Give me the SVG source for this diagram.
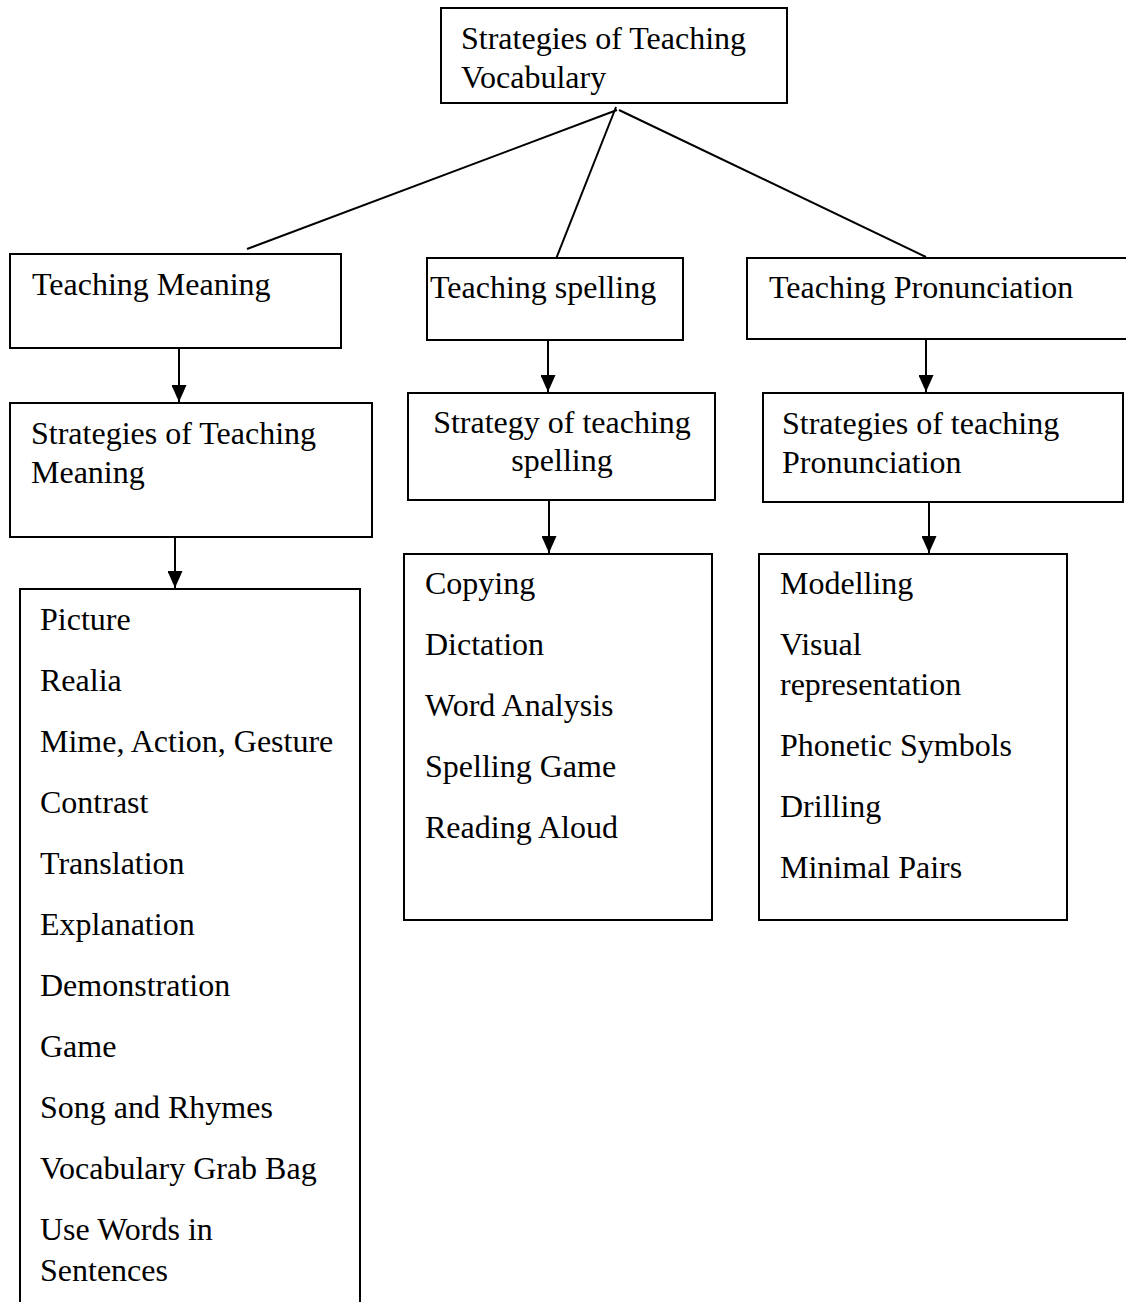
<svg xmlns="http://www.w3.org/2000/svg" width="1126" height="1302" viewBox="0 0 1126 1302">
<style>
.box{fill:#fff;stroke:#000;stroke-width:2}
.t{font-family:"Liberation Serif","Times New Roman",serif;font-size:32px;fill:#000}
.c{text-anchor:middle}
.ln{stroke:#000;stroke-width:2;fill:none}
</style>
<defs>
<marker id="ad" markerUnits="userSpaceOnUse" markerWidth="15" markerHeight="17" refX="7.5" refY="17" viewBox="0 0 15 17">
<path d="M0,0 L15,0 L7.5,17 Z" fill="#000"/>
</marker>
</defs>
<rect width="1126" height="1302" fill="#fff"/>
<g id="connectors">
<line class="ln" x1="617" y1="110" x2="247" y2="249"/>
<line class="ln" x1="616" y1="107" x2="554" y2="264"/>
<line class="ln" x1="619" y1="110" x2="926" y2="257"/>
<line class="ln" x1="179" y1="348" x2="179" y2="402" marker-end="url(#ad)"/>
<line class="ln" x1="175" y1="537" x2="175" y2="588" marker-end="url(#ad)"/>
<line class="ln" x1="548" y1="340" x2="548" y2="392" marker-end="url(#ad)"/>
<line class="ln" x1="549" y1="500" x2="549" y2="553" marker-end="url(#ad)"/>
<line class="ln" x1="926" y1="339" x2="926" y2="392" marker-end="url(#ad)"/>
<line class="ln" x1="929" y1="502" x2="929" y2="553" marker-end="url(#ad)"/>
</g>
<g id="root">
<rect class="box" x="441" y="8" width="346" height="95"/>
<text class="t" x="461" y="49">Strategies of Teaching</text>
<text class="t" x="461" y="88">Vocabulary</text>
</g>
<g id="teaching-meaning">
<rect class="box" x="10" y="254" width="331" height="94"/>
<text class="t" x="32" y="295">Teaching Meaning</text>
</g>
<g id="teaching-spelling">
<rect class="box" x="427" y="258" width="256" height="82"/>
<text class="t" x="430" y="298">Teaching spelling</text>
</g>
<g id="teaching-pronunciation">
<rect class="box" x="747" y="258" width="390" height="81"/>
<text class="t" x="769" y="298">Teaching Pronunciation</text>
</g>
<g id="strategies-meaning">
<rect class="box" x="10" y="403" width="362" height="134"/>
<text class="t" x="31" y="444">Strategies of Teaching</text>
<text class="t" x="31" y="483">Meaning</text>
</g>
<g id="strategy-spelling">
<rect class="box" x="408" y="393" width="307" height="107"/>
<text class="t c" x="562" y="433">Strategy of teaching</text>
<text class="t c" x="562" y="471">spelling</text>
</g>
<g id="strategies-pronunciation">
<rect class="box" x="763" y="393" width="360" height="109"/>
<text class="t" x="782" y="434">Strategies of teaching</text>
<text class="t" x="782" y="473">Pronunciation</text>
</g>
<g id="meaning-list">
<rect class="box" x="20" y="589" width="340" height="730"/>
<text class="t" x="40" y="630">Picture</text>
<text class="t" x="40" y="691">Realia</text>
<text class="t" x="40" y="752">Mime, Action, Gesture</text>
<text class="t" x="40" y="813">Contrast</text>
<text class="t" x="40" y="874">Translation</text>
<text class="t" x="40" y="935">Explanation</text>
<text class="t" x="40" y="996">Demonstration</text>
<text class="t" x="40" y="1057">Game</text>
<text class="t" x="40" y="1118">Song and Rhymes</text>
<text class="t" x="40" y="1179">Vocabulary Grab Bag</text>
<text class="t" x="40" y="1240">Use Words in</text>
<text class="t" x="40" y="1281">Sentences</text>
</g>
<g id="spelling-list">
<rect class="box" x="404" y="554" width="308" height="366"/>
<text class="t" x="425" y="594">Copying</text>
<text class="t" x="425" y="655">Dictation</text>
<text class="t" x="425" y="716">Word Analysis</text>
<text class="t" x="425" y="777">Spelling Game</text>
<text class="t" x="425" y="838">Reading Aloud</text>
</g>
<g id="pronunciation-list">
<rect class="box" x="759" y="554" width="308" height="366"/>
<text class="t" x="780" y="594">Modelling</text>
<text class="t" x="780" y="655">Visual</text>
<text class="t" x="780" y="695">representation</text>
<text class="t" x="780" y="756">Phonetic Symbols</text>
<text class="t" x="780" y="817">Drilling</text>
<text class="t" x="780" y="878">Minimal Pairs</text>
</g>
</svg>
